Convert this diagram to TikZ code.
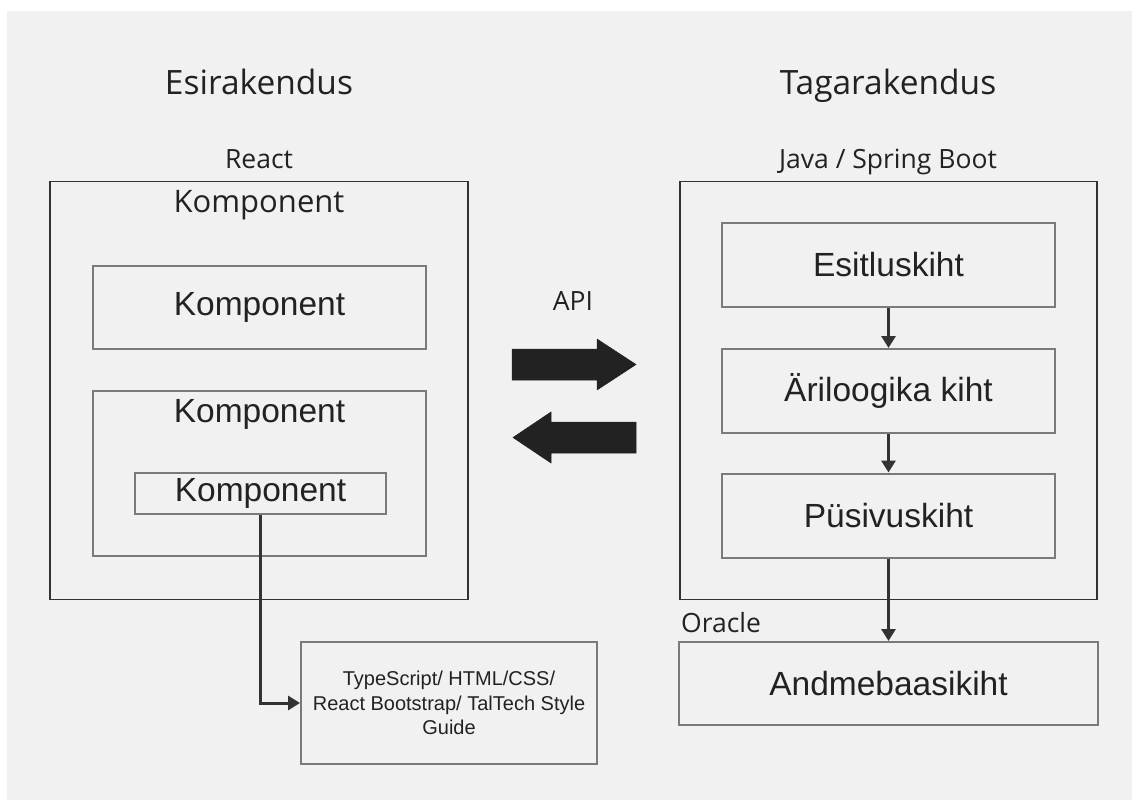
\documentclass[tikz,border=0pt]{standalone}
\usepackage{fontspec}
\usetikzlibrary{arrows.meta}
\newfontfamily\titlefont{Open Sans}
\newfontfamily\boxfont{Liberation Sans}
\definecolor{bg}{HTML}{F1F1F1}
\definecolor{ink}{HTML}{222222}
\definecolor{frame}{HTML}{333333}
\definecolor{boxline}{HTML}{7A7A7A}
\definecolor{wire}{HTML}{333333}
\tikzset{
  outerbox/.style={draw=frame, line width=1.3pt, rectangle, inner sep=0pt},
  layerbox/.style={draw=boxline, line width=2pt, rectangle, inner sep=0pt,
    text=ink, font=\boxfont\fontsize{33.5}{40}\selectfont},
  heading/.style={text=ink, inner sep=0pt, font=\titlefont\fontsize{33.5}{40}\selectfont},
  subheading/.style={text=ink, inner sep=0pt, font=\titlefont\fontsize{26.5}{32}\selectfont},
  wirearrow/.style={draw=wire, line width=3pt, -{Triangle[length=12pt,width=14pt]}},
  bigarrow/.style={fill=ink, draw=ink, line width=0.5pt},
}
\begin{document}
\begin{tikzpicture}[x=1pt,y=-1pt]
  % page and background
  \fill[white] (0,0) rectangle (1132,800);
  \fill[bg] (7,11) rectangle (1132,800);
  \useasboundingbox (0,0) rectangle (1132,800);

  % ---------- front end ----------
  \node[heading, anchor=base] (fe) at (259,94) {Esirakendus};
  \node[subheading, anchor=base] (react) at (259,168) {React};
  \node[outerbox, minimum width=418, minimum height=418] (feframe) at (259,390.5) {};
  \node[text=ink, inner sep=0pt, anchor=base, font=\titlefont\fontsize{31}{36}\selectfont]
    (fetitle) at (259,212) {Komponent};

  \node[layerbox, minimum width=333, minimum height=83] (k1) at (259.5,307.5) {Komponent};
  \node[layerbox, minimum width=333, minimum height=165] (k2) at (259.5,473.5) {};
  \node[text=ink, inner sep=0pt, anchor=base, font=\boxfont\fontsize{33.5}{40}\selectfont]
    (k2title) at (259.5,422) {Komponent};
  \node[layerbox, minimum width=251, minimum height=41] (k3) at (260.5,493.5) {Komponent};

  \node[layerbox, minimum width=296, minimum height=122, align=center,
        font=\boxfont\fontsize{20}{24.5}\selectfont] (tech) at (449,703)
    {TypeScript/ HTML/CSS/\\React Bootstrap/ TalTech Style\\Guide};

  \draw[wirearrow] (k3.south) |- (tech.west);

  % ---------- API arrows ----------
  \node[subheading, anchor=base] (api) at (573,310) {API};
  \fill[bigarrow] (512,349) -- (597,349) -- (597,339) -- (636,364.5)
                  -- (597,390) -- (597,380) -- (512,380) -- cycle;
  \fill[bigarrow] (636,422) -- (551,422) -- (551,412) -- (513,437.5)
                  -- (551,463) -- (551,453) -- (636,453) -- cycle;

  % ---------- back end ----------
  \node[heading, anchor=base] (be) at (888,94) {Tagarakendus};
  \node[subheading, anchor=base] (java) at (888,168) {Java / Spring Boot};
  \node[outerbox, minimum width=417, minimum height=418] (beframe) at (888.5,390.5) {};

  \node[layerbox, minimum width=333, minimum height=84] (esit) at (888.5,265) {Esitluskiht};
  \node[layerbox, minimum width=333, minimum height=84] (ari) at (888.5,391) {Äriloogika kiht};
  \node[layerbox, minimum width=333, minimum height=84] (pys) at (888.5,515.5) {Püsivuskiht};

  \node[subheading, anchor=base west] (oracle) at (681,632) {Oracle};
  \node[layerbox, minimum width=419, minimum height=83] (db) at (888.5,683.5) {Andmebaasikiht};

  \draw[wirearrow] (esit.south) -- (ari.north);
  \draw[wirearrow] (ari.south) -- (pys.north);
  \draw[wirearrow] (pys.south) -- (db.north);
\end{tikzpicture}
\end{document}
